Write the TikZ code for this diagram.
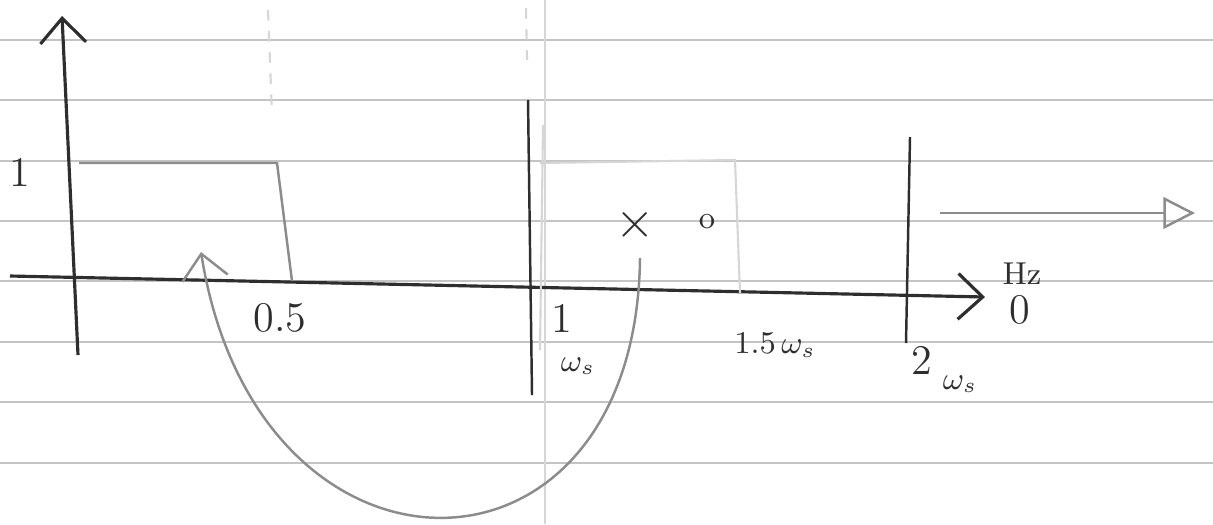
\documentclass[tikz,border=0pt]{standalone}
\usepackage{amsmath}
\usepackage{tikz}
\usetikzlibrary{arrows.meta, positioning, calc}
\definecolor{PenGray}    {HTML}{2E2E2E}
\definecolor{PencilGray} {HTML}{8C8C8C}
\definecolor{RuleGray}   {HTML}{C4C4C4}
\definecolor{FaintGray}  {HTML}{D6D6D6}

\begin{document}
\begin{tikzpicture}[
  x=0.01cm, y=-0.01cm,
  rule/.style   = {RuleGray, line width=0.7pt},
  axis/.style   = {PenGray, line width=0.9pt},
  pencil/.style = {PencilGray, line width=0.7pt},
  faint/.style  = {FaintGray, line width=0.6pt},
  lbl/.style    = {text=PenGray, font=\large, inner sep=1pt},
  sml/.style    = {text=PenGray, font=\small, inner sep=1pt},
  arr/.style    = {-{Straight Barb[length=7pt, width=13pt]}},
  tri/.style    = {-{Triangle[open, length=9pt, width=9pt]}},
]
\useasboundingbox (0,0) rectangle (1213,524);
% ruled paper
\foreach \r in {40,100,161,221,281,342,402,463}
  \draw[rule] (0,\r) -- (1213,\r);
\draw[faint] (545,0) -- (545,524);
% axes
\coordinate (ybot) at (78,355);
\coordinate (ytop) at (62,16);
\coordinate (xl)   at (10,276);
\coordinate (xr)   at (985,297);
\draw[axis, arr] (ybot) -- (ytop);
\draw[axis, arr] (xl) -- (xr);
% pulse up to 0.5
\coordinate (p1) at (79,163);
\coordinate (p2) at (277,163);
\coordinate (p3) at (292,281);
\draw[pencil] (p1) -- (p2) -- (p3);
\draw[faint, dashed] (268,10) -- (272,115);
% lines at ws and 2ws
\coordinate (wa) at (528,100);
\coordinate (wb) at (532,395);
\coordinate (wc) at (910,137);
\coordinate (wd) at (906,343);
\draw[axis, line width=0.7pt] (wa) -- (wb);
\draw[axis, line width=0.7pt] (wc) -- (wd);
\draw[faint, dashed] (526,8) -- (527,60);
% shifted pulse, faint
\coordinate (q0) at (543,125);
\coordinate (q1) at (540,350);
\coordinate (q2) at (540,163);
\coordinate (q3) at (735,160);
\coordinate (q4) at (740,293);
\draw[faint] (q0) -- (q1);
\draw[faint] (q2) -- (q3) -- (q4);
% labels
\node[lbl] (one)  at (20,172)  {1};
\node[lbl] (half) at (280,318) {0.5};
\node[lbl] (ws1)  at (562,318) {1};
\node[sml] (wsa)  at (578,366) {$\omega_s$};
\node[sml] (w15)  at (775,345) {1.5\,$\omega_s$};
\node[lbl] (two)  at (922,360) {2};
\node[sml] (wsb)  at (960,384) {$\omega_s$};
\node[sml] (hz)   at (1022,274) {Hz};
\node[lbl] (zero) at (1020,310) {0};
\node[font=\Large, text=PenGray] (cross) at (635,225) {$\times$};
\node[sml] (ring) at (707,222) {o};
% folding arrow
\coordinate (fs) at (640,258);
\coordinate (fe) at (201,252);
\draw[pencil, arr] (fs) .. controls (636,605) and (257,605) .. (fe);
% faint arrow on the right
\coordinate (ra) at (940,213);
\coordinate (rb) at (1195,213);
\draw[pencil, tri] (ra) -- (rb);
\end{tikzpicture}
\end{document}
